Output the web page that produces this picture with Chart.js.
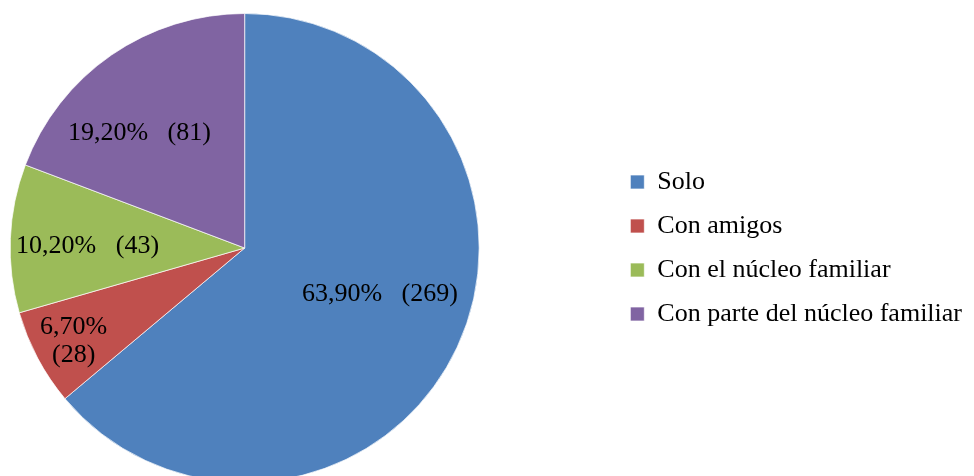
<!DOCTYPE html>
<html>
<head>
<meta charset="utf-8">
<script src="https://cdn.jsdelivr.net/npm/chart.js@4/dist/chart.umd.min.js"></script>
<style>
  html, body { margin: 0; padding: 0; background: #fff; overflow: hidden; width: 974px; height: 476px; }
  #wrap { position: absolute; left: -123px; top: 13px; width: 1095px; height: 470px; }
</style>
</head>
<body>
<div id="wrap"><canvas id="pieChart"></canvas></div>
<script>
const categories = ["Solo", "Con amigos", "Con el núcleo familiar", "Con parte del núcleo familiar"];
const counts = [269, 28, 43, 81];
const percents = ["63,90%", "6,70%", "10,20%", "19,20%"];
const colors = ["#4F81BD", "#C0504D", "#9BBB59", "#8064A2"];

// label placement inside each slice (fraction of radius, angle shift in degrees)
const labelRadius = [0.61, 0.83, 0.67, 0.665];
const labelShift = [-6, -0.5, -1.8, -7.8];
const labelLines = [
  [percents[0] + "   (" + counts[0] + ")"],
  [percents[1], "(" + counts[1] + ")"],
  [percents[2] + "   (" + counts[2] + ")"],
  [percents[3] + "   (" + counts[3] + ")"]
];

const FONT = "'Liberation Serif', 'Times New Roman', serif";

const sliceLabels = {
  id: "sliceLabels",
  afterDatasetsDraw(chart) {
    const ctx = chart.ctx;
    const meta = chart.getDatasetMeta(0);
    ctx.save();
    ctx.font = "26px " + FONT;
    ctx.fillStyle = "#000";
    ctx.textAlign = "center";
    ctx.textBaseline = "middle";
    meta.data.forEach((arc, i) => {
      const p = arc.getProps(["x", "y", "startAngle", "endAngle", "outerRadius"], true);
      const mid = (p.startAngle + p.endAngle) / 2 + labelShift[i] * Math.PI / 180;
      const r = p.outerRadius * labelRadius[i];
      const cx = p.x + Math.cos(mid) * r;
      const cy = p.y + Math.sin(mid) * r;
      const lines = labelLines[i];
      const lh = 28;
      lines.forEach((t, k) => {
        ctx.fillText(t, cx, cy + (k - (lines.length - 1) / 2) * lh);
      });
    });
    ctx.restore();
  }
};

new Chart(document.getElementById("pieChart"), {
  type: "pie",
  data: {
    labels: categories,
    datasets: [{
      data: counts,
      backgroundColor: colors,
      borderColor: "rgba(255,255,255,0.7)",
      borderWidth: 1
    }]
  },
  options: {
    responsive: true,
    maintainAspectRatio: false,
    animation: false,
    layout: { padding: 0 },
    plugins: {
      legend: {
        position: "right",
        labels: {
          boxWidth: 14,
          boxHeight: 14,
          padding: 18,
          color: "#000",
          font: { family: FONT, size: 26 }
        }
      },
      tooltip: { enabled: false }
    }
  },
  plugins: [sliceLabels]
});
</script>
</body>
</html>
